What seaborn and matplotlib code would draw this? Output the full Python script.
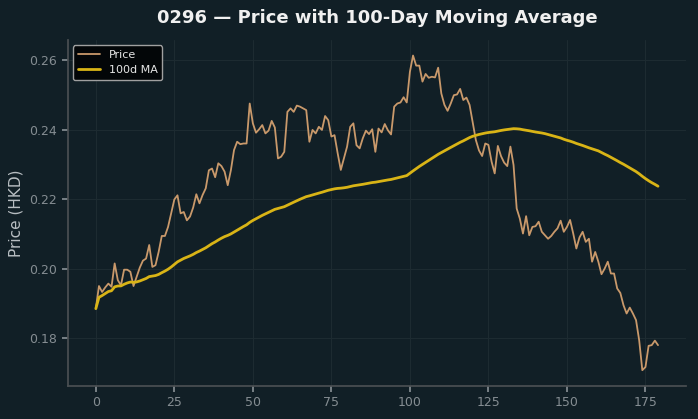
import pandas as pd
import numpy as np
import matplotlib
matplotlib.use('Agg')
import matplotlib.pyplot as plt
import seaborn as sns

# Daily closing prices (180 trading days)
price = [
    0.1885, 0.1950, 0.1933, 0.1946, 0.1957, 0.1948, 0.2015, 0.1967, 0.1952, 0.1997,
    0.1997, 0.1991, 0.1950, 0.1977, 0.2003, 0.2023, 0.2029, 0.2068, 0.2005, 0.2010,
    0.2048, 0.2094, 0.2094, 0.2120, 0.2159, 0.2199, 0.2211, 0.2159, 0.2163, 0.2139,
    0.2150, 0.2176, 0.2214, 0.2188, 0.2212, 0.2231, 0.2283, 0.2288, 0.2263, 0.2303,
    0.2295, 0.2279, 0.2240, 0.2283, 0.2341, 0.2365, 0.2358, 0.2360, 0.2360, 0.2475,
    0.2418, 0.2391, 0.2401, 0.2413, 0.2389, 0.2397, 0.2425, 0.2406, 0.2317, 0.2322,
    0.2336, 0.2451, 0.2461, 0.2451, 0.2469, 0.2466, 0.2461, 0.2456, 0.2365, 0.2399,
    0.2389, 0.2408, 0.2399, 0.2439, 0.2427, 0.2380, 0.2384, 0.2332, 0.2284, 0.2317,
    0.2351, 0.2408, 0.2418, 0.2355, 0.2346, 0.2375, 0.2397, 0.2387, 0.2401, 0.2336,
    0.2403, 0.2392, 0.2416, 0.2398, 0.2386, 0.2466, 0.2475, 0.2478, 0.2493, 0.2478,
    0.2566, 0.2613, 0.2584, 0.2584, 0.2538, 0.2560, 0.2549, 0.2552, 0.2550, 0.2578,
    0.2504, 0.2471, 0.2454, 0.2475, 0.2499, 0.2501, 0.2517, 0.2485, 0.2492, 0.2471,
    0.2420, 0.2370, 0.2340, 0.2324, 0.2360, 0.2356, 0.2308, 0.2274, 0.2353, 0.2324,
    0.2305, 0.2295, 0.2351, 0.2298, 0.2173, 0.2144, 0.2101, 0.2151, 0.2096, 0.2120,
    0.2122, 0.2135, 0.2106, 0.2096, 0.2086, 0.2094, 0.2106, 0.2116, 0.2138, 0.2106,
    0.2120, 0.2140, 0.2101, 0.2058, 0.2090, 0.2106, 0.2077, 0.2086, 0.2020, 0.2048,
    0.2020, 0.1984, 0.2000, 0.2020, 0.1986, 0.1986, 0.1943, 0.1930, 0.1895, 0.1871,
    0.1888, 0.1871, 0.1852, 0.1794, 0.1708, 0.1717, 0.1778, 0.1780, 0.1793, 0.1780,
]
ticker = '0296'
window = 100

df = pd.DataFrame({'day': np.arange(len(price)), 'price': price})
df['ma'] = df['price'].rolling(window, min_periods=1).mean()

bg = '#111f26'
sns.set_theme(style='dark')
plt.rcParams['font.family'] = ['DejaVu Sans']

fig, ax = plt.subplots(figsize=(6.98, 4.19), dpi=100)
fig.patch.set_facecolor(bg)
ax.set_facecolor(bg)

sns.lineplot(data=df, x='day', y='price', ax=ax, color='#c9996b', linewidth=1.3, label='Price')
sns.lineplot(data=df, x='day', y='ma', ax=ax, color='#d9b416', linewidth=2.0, label=f'{window}d MA')

ax.set_title(f'{ticker} \u2014 Price with {window}-Day Moving Average',
             color='#f0f0f0', fontsize=13, fontweight='bold', pad=12)
ax.set_xlabel('')
ax.set_ylabel('Price (HKD)', color='#b8bec2', fontsize=11)
ax.tick_params(colors='#858d92', labelsize=9, length=4, color='#858d92', bottom=True, left=True)
ax.set_xticks([0, 25, 50, 75, 100, 125, 150, 175])
ax.yaxis.set_major_formatter(matplotlib.ticker.FormatStrFormatter('%.2f'))
ax.grid(True, color='#1d2b31', linewidth=0.8)
sns.despine(ax=ax)
for s in ['left', 'bottom']:
    ax.spines[s].set_color('#4a4f52')

leg = ax.legend(loc='upper left', fontsize=8, facecolor='#030608', edgecolor='#a0a0a0', framealpha=1)
for t in leg.get_texts():
    t.set_color('#e6e6e6')

fig.subplots_adjust(left=0.097, right=0.983, bottom=0.079, top=0.905)
plt.savefig('out.png', dpi=100, facecolor=bg)
